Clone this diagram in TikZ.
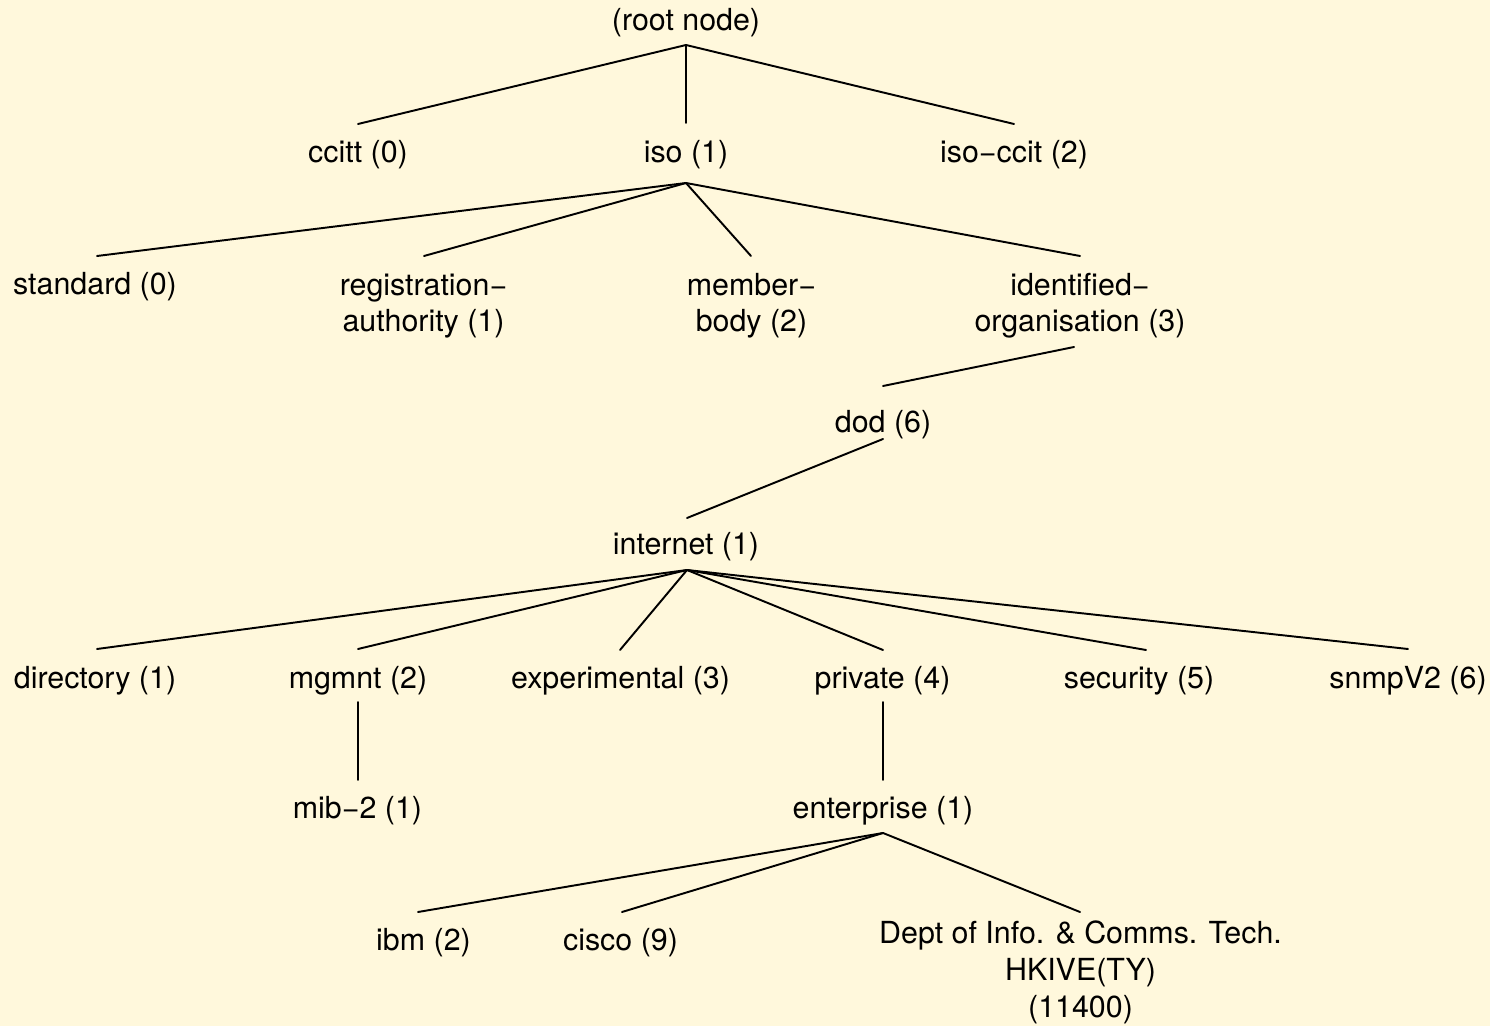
\documentclass[tikz,border=0pt]{standalone}
\usepackage{fontspec}
\setmainfont{TeX Gyre Heros}
\usetikzlibrary{calc}
\definecolor{bgcream}{RGB}{255,248,220}
\tikzset{
  lbl/.style={inner sep=0pt, outer sep=0pt, anchor=base, align=center,
    font=\fontsize{17.3}{21}\selectfont},
  conn/.style={line width=1.1pt, line cap=round}
}
\begin{document}
\begin{tikzpicture}[x=0.02cm, y=-0.02cm]
\fill[bgcream] (0,0) rectangle (1490,1026);
\useasboundingbox (0,0) rectangle (1490,1026);
% nodes (anchor = baseline of the last line)
\node[lbl] (root) at (686,31) {(root node)};
\node[lbl] (ccitt) at (358,163) {ccitt (0)};
\node[lbl] (iso) at (686,163) {iso (1)};
\node[lbl] (isoccit) at (1014,163) {iso−ccit (2)};
\node[lbl] (standard) at (95,295) {standard (0)};
\node[lbl] (reg) at (423.5,332) {registration−\\authority (1)};
\node[lbl] (member) at (751.5,332) {member−\\body (2)};
\node[lbl] (ident) at (1080,332) {identified−\\organisation (3)};
\node[lbl] (dod) at (883,433) {dod (6)};
\node[lbl] (internet) at (686,555) {internet (1)};
\node[lbl] (directory) at (95,688) {directory (1)};
\node[lbl] (mgmnt) at (358,688) {mgmnt (2)};
\node[lbl] (experimental) at (620.5,688) {experimental (3)};
\node[lbl] (private) at (882.5,688) {private (4)};
\node[lbl] (security) at (1139,688) {security (5)};
\node[lbl] (snmp) at (1408,688) {snmpV2 (6)};
\node[lbl] (mib) at (357.5,818) {mib−2 (1)};
\node[lbl] (enterprise) at (883,818) {enterprise (1)};
\node[lbl] (ibm) at (423.5,950) {ibm (2)};
\node[lbl] (cisco) at (620.5,950) {cisco (9)};
\node[lbl] (dept) at (1080.5,1017) {Dept of Info. \& Comms. Tech.\\HKIVE(TY)\\(11400)};
% connection points
\coordinate (root-s) at ($(root.base)+(0,14)$);
\coordinate (iso-s) at ($(iso.base)+(0,20)$);
\coordinate (ident-s) at ($(ident.base)+(-6,15)$);
\coordinate (dod-s) at ($(dod.base)+(0,6)$);
\coordinate (internet-s) at ($(internet.base)+(1,15)$);
\coordinate (mgmnt-s) at ($(mgmnt.base)+(0,14)$);
\coordinate (private-s) at ($(private.base)+(0.5,14)$);
\coordinate (enterprise-s) at ($(enterprise.base)+(0,15)$);
% connectors
\draw[conn] (root-s) -- ($(ccitt.base)+(0,-39)$);
\draw[conn] (root-s) -- ($(iso.base)+(0,-40)$);
\draw[conn] (root-s) -- ($(isoccit.base)+(0,-39)$);
\draw[conn] (iso-s) -- ($(standard.base)+(2,-39)$);
\draw[conn] (iso-s) -- ($(reg.base)+(0.5,-76)$);
\draw[conn] (iso-s) -- ($(member.base)+(-0.5,-76)$);
\draw[conn] (iso-s) -- ($(ident.base)+(0,-76)$);
\draw[conn] (ident-s) -- ($(dod.base)+(0,-47)$);
\draw[conn] (dod-s) -- ($(internet.base)+(1,-37)$);
\draw[conn] (internet-s) -- ($(directory.base)+(2,-39)$);
\draw[conn] (internet-s) -- ($(mgmnt.base)+(0,-39)$);
\draw[conn] (internet-s) -- ($(experimental.base)+(-0.5,-38)$);
\draw[conn] (internet-s) -- ($(private.base)+(0.5,-38)$);
\draw[conn] (internet-s) -- ($(security.base)+(7,-38)$);
\draw[conn] (internet-s) -- ($(snmp.base)+(0,-39)$);
\draw[conn] (mgmnt-s) -- ($(mib.base)+(0.5,-38)$);
\draw[conn] (private-s) -- ($(enterprise.base)+(0,-38)$);
\draw[conn] (enterprise-s) -- ($(ibm.base)+(-5.5,-38)$);
\draw[conn] (enterprise-s) -- ($(cisco.base)+(1.5,-38)$);
\draw[conn] (enterprise-s) -- ($(dept.base)+(-0.5,-105)$);
\end{tikzpicture}
\end{document}
